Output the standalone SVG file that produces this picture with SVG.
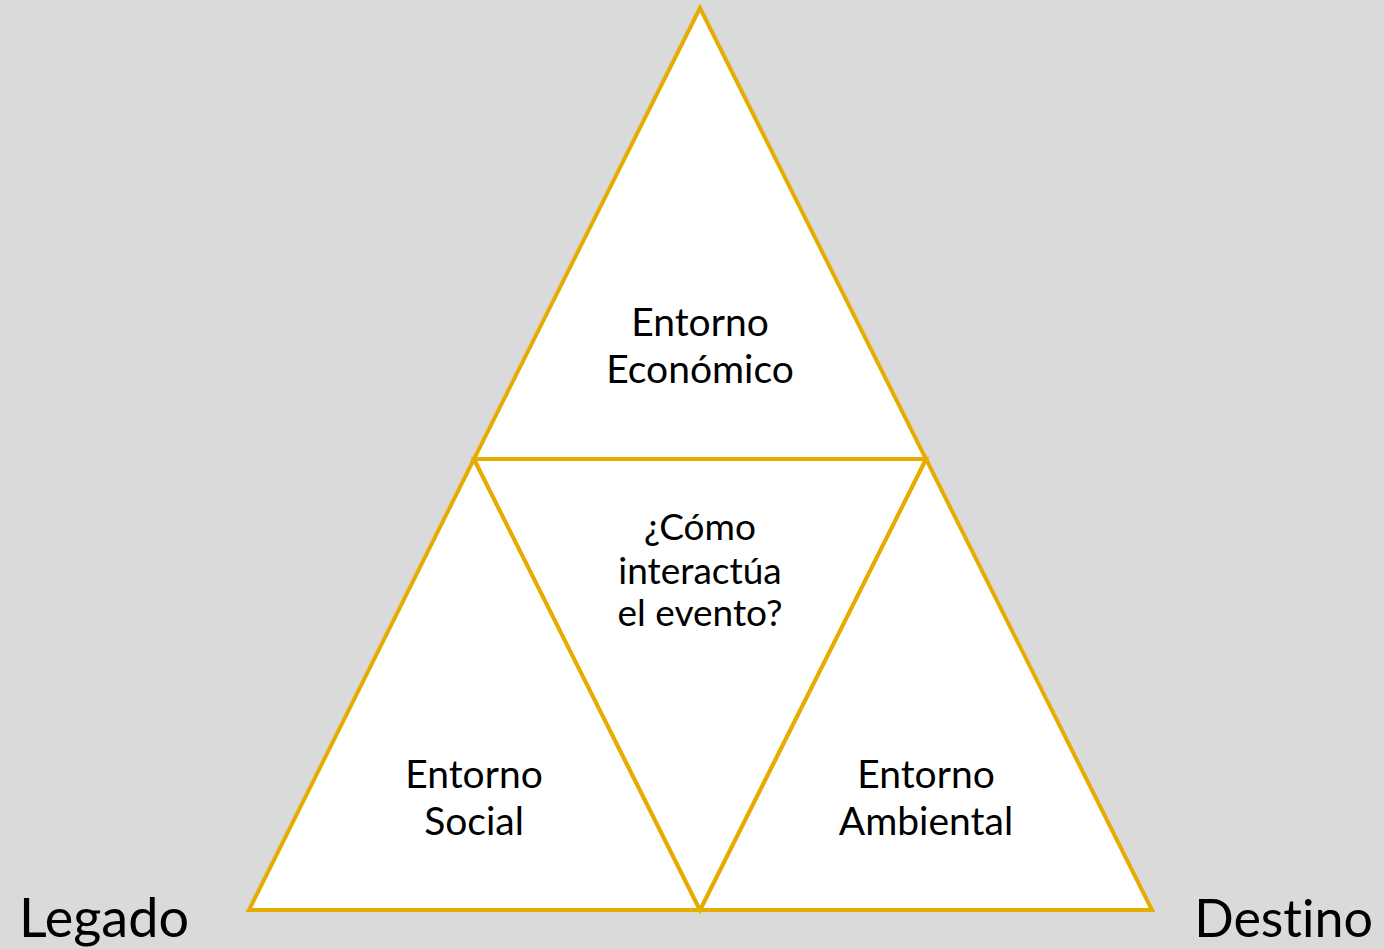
<svg xmlns="http://www.w3.org/2000/svg" width="1384" height="949" viewBox="0 0 1384 949">
<style>
.tri{fill:#FFFFFF;stroke:#E6AD00;stroke-width:4;stroke-linejoin:miter}
.lbl{font-family:Lato,"Open Sans","Liberation Sans",sans-serif;font-size:39px;fill:#000;text-anchor:middle}
.mid{font-size:37px}
.side{font-family:Lato,"Open Sans","Liberation Sans",sans-serif;font-size:54px;fill:#000;font-variant-ligatures:none}
</style>
<rect width="1384" height="949" fill="#DADADA"/>
<g id="top">
<polygon class="tri" points="700,8 474,459 926,459"/>
<text class="lbl" x="700" y="336">Entorno</text>
<text class="lbl" x="700" y="383">Económico</text>
</g>
<g id="left">
<polygon class="tri" points="474,459 249,910 700,910"/>
<text class="lbl" x="474" y="788">Entorno</text>
<text class="lbl" x="474" y="835">Social</text>
</g>
<g id="right">
<polygon class="tri" points="926,459 700,910 1152,910"/>
<text class="lbl" x="926" y="788">Entorno</text>
<text class="lbl" x="926" y="835">Ambiental</text>
</g>
<g id="center">
<polygon class="tri" points="474,459 926,459 700,910"/>
<text class="lbl mid" x="700" y="540">¿Cómo</text>
<text class="lbl mid" x="700" y="584">interactúa</text>
<text class="lbl mid" x="700" y="626">el evento?</text>
</g>
<g id="connectors"></g>
<g id="legado"><text class="side" x="19" y="937">Legado</text></g>
<g id="destino"><text class="side" x="1373" y="937" text-anchor="end" style="font-size:52px">Destino</text></g>
</svg>
